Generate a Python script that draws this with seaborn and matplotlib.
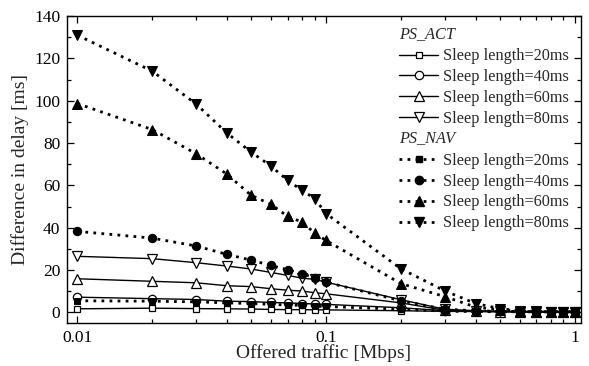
import numpy as np
import seaborn as sns
import matplotlib.pyplot as plt
from matplotlib.ticker import FixedLocator, NullFormatter, MultipleLocator
from matplotlib.legend_handler import HandlerBase
from matplotlib.lines import Line2D
from matplotlib.text import Text

traffic = [0.01, 0.02, 0.03, 0.04, 0.05, 0.06, 0.07, 0.08, 0.09, 0.1,
           0.2, 0.3, 0.4, 0.5, 0.6, 0.7, 0.8, 0.9, 1.0]

act_20 = [1.7, 2.0, 1.8, 1.7, 1.6, 1.4, 1.3, 1.3, 1.2, 1.2,
          0.8, 0.5, 0.4, 0.3, 0.3, 0.3, 0.3, 0.3, 0.3]
act_40 = [7.2, 6.5, 6.1, 5.3, 5.1, 4.7, 4.5, 4.2, 4.0, 3.8,
          2.2, 0.8, 0.5, 0.4, 0.3, 0.3, 0.3, 0.3, 0.3]
act_60 = [15.9, 14.7, 14.0, 12.6, 12.2, 11.2, 10.5, 10.1, 9.3, 8.8,
          4.5, 1.0, 0.6, 0.4, 0.4, 0.3, 0.3, 0.3, 0.3]
act_80 = [26.5, 25.4, 23.5, 21.9, 20.5, 18.9, 17.5, 16.2, 15.6, 14.3,
          6.0, 1.5, 0.8, 0.5, 0.4, 0.4, 0.3, 0.3, 0.3]
nav_20 = [5.5, 5.3, 5.0, 4.5, 4.2, 3.8, 3.5, 3.3, 3.0, 2.8,
          1.5, 0.6, 0.4, 0.3, 0.3, 0.3, 0.3, 0.3, 0.3]
nav_40 = [38.3, 35.1, 31.4, 27.4, 24.7, 22.2, 20.2, 18.3, 16.4, 14.3,
          5.5, 1.5, 0.8, 0.5, 0.4, 0.3, 0.3, 0.3, 0.3]
nav_60 = [98.7, 86.4, 75.0, 65.3, 55.3, 51.1, 45.4, 42.7, 37.5, 34.0,
          13.6, 7.5, 2.5, 1.2, 0.6, 0.4, 0.4, 0.3, 0.3]
nav_80 = [131.0, 114.0, 98.5, 84.7, 75.7, 69.2, 62.4, 57.7, 53.8, 46.7,
          20.6, 10.2, 4.2, 1.8, 0.8, 0.5, 0.4, 0.4, 0.3]

labels = ["Sleep length=20ms", "Sleep length=40ms",
          "Sleep length=60ms", "Sleep length=80ms"]
markers = ["s", "o", "^", "v"]
msizes = [5, 6, 6.5, 6.5]

sns.set_style("ticks")
plt.rcParams["font.family"] = ["Liberation Serif", "DejaVu Serif"]

fig = plt.figure(figsize=(5.89, 3.66), dpi=100)
ax = fig.add_axes([0.114, 0.1175, 0.872, 0.8385])

for vals, m, ms in zip([act_20, act_40, act_60, act_80], markers, msizes):
    sns.lineplot(x=traffic, y=vals, ax=ax, color="black", lw=1.0,
                 linestyle="-", marker=m, markersize=ms,
                 markerfacecolor="white", markeredgecolor="black",
                 markeredgewidth=0.9)
for vals, m, ms in zip([nav_20, nav_40, nav_60, nav_80], markers, msizes):
    sns.lineplot(x=traffic, y=vals, ax=ax, color="black", lw=2.0,
                 linestyle=(0, (1, 1.9)), marker=m, markersize=ms,
                 markerfacecolor="black", markeredgecolor="black")

ax.set_xscale("log")
ax.set_xlim(0.0091, 1.057)
ax.set_ylim(-5, 140)
ax.xaxis.set_major_locator(FixedLocator([0.01, 0.1, 1]))
ax.set_xticklabels(["0.01", "0.1", "1"])
ax.xaxis.set_minor_locator(FixedLocator(
    [0.02, 0.03, 0.04, 0.05, 0.06, 0.07, 0.08, 0.09,
     0.2, 0.3, 0.4, 0.5, 0.6, 0.7, 0.8, 0.9]))
ax.xaxis.set_minor_formatter(NullFormatter())
ax.yaxis.set_major_locator(MultipleLocator(20))
ax.yaxis.set_minor_locator(MultipleLocator(10))

ax.tick_params(which="both", direction="in", top=True, right=True,
               colors="black", labelsize=12.5, width=0.9)
ax.tick_params(which="major", length=5)
ax.tick_params(which="minor", length=3)
ax.tick_params(axis="x", pad=5)
ax.tick_params(axis="y", pad=5)
for s in ax.spines.values():
    s.set_linewidth(1.0)
    s.set_color("black")

ax.set_xlabel("Offered traffic [Mbps]", fontsize=14, labelpad=-1)
ax.set_ylabel("Difference in delay [ms]", fontsize=14, labelpad=4)


class Title:
    def __init__(self, s):
        self.s = s


class TitleHandler(HandlerBase):
    def create_artists(self, legend, orig_handle, xdescent, ydescent,
                       width, height, fontsize, trans):
        t = Text(-xdescent, -ydescent + height / 2, orig_handle.s,
                 fontsize=fontsize, style="italic", va="center", ha="left",
                 family=["Liberation Serif"])
        t.set_transform(trans)
        return [t]


handles = [Title("PS_ACT")]
names = [""]
for m, ms in zip(markers, msizes):
    handles.append(Line2D([], [], color="black", lw=1.0, linestyle="-",
                          marker=m, markersize=ms, markerfacecolor="white",
                          markeredgecolor="black", markeredgewidth=0.9))
    names.append(labels[markers.index(m)])
handles.append(Title("PS_NAV"))
names.append("")
for m, ms in zip(markers, msizes):
    handles.append(Line2D([], [], color="black", lw=2.0,
                          linestyle=(0, (1, 1.9)),
                          marker=m, markersize=ms, markerfacecolor="black",
                          markeredgecolor="black"))
    names.append(labels[markers.index(m)])

leg = ax.legend(handles, names, handler_map={Title: TitleHandler()},
                loc="upper right", bbox_to_anchor=(0.995, 0.995),
                frameon=False, fontsize=11.7, handlelength=2.35,
                handletextpad=0.3, labelspacing=0.3, borderaxespad=0.2)

fig.savefig("out.png", dpi=100)
